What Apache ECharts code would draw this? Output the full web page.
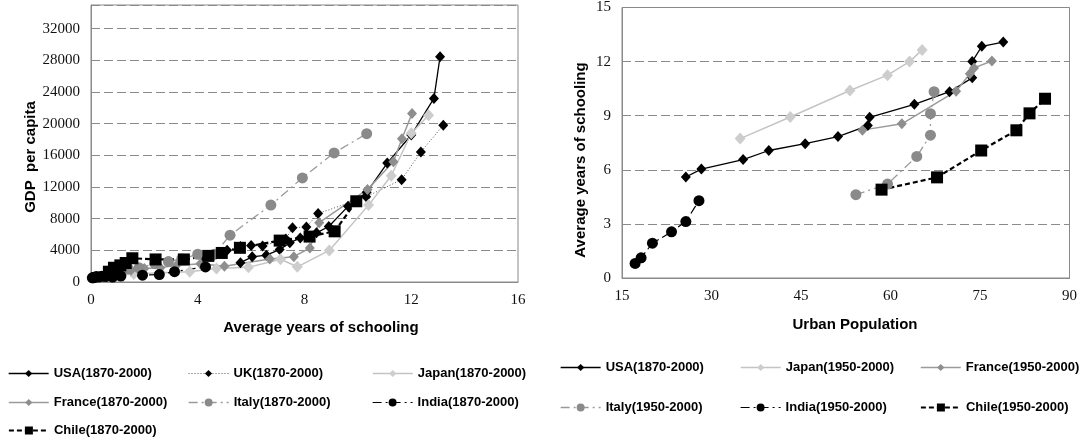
<!DOCTYPE html>
<html>
<head>
<meta charset="utf-8">
<script src="https://cdn.jsdelivr.net/npm/echarts@6/dist/echarts.min.js"></script>
<style>
  html, body { margin: 0; padding: 0; background: #fff; }
  #wrap { position: relative; width: 1080px; height: 442px; }
  #left { position: absolute; left: 0; top: 0; width: 540px; height: 442px; }
  #right { position: absolute; left: 540px; top: 0; width: 540px; height: 442px; }
</style>
</head>
<body>
<div id="wrap"><div id="left"></div><div id="right"></div></div>
<script>
// ---- Average years of schooling, by decade 1870-2000 ----
const usaSchool    = [5.6, 6.04, 6.57, 7.07, 7.45, 7.84, 8.45, 8.91, 9.63, 10.33, 11.1, 12.0, 12.85, 13.08];
const ukSchool     = [4.2, 4.6, 5.1, 5.6, 6.0, 6.43, 7.3, 7.55, 8.07, 8.51, 10.31, 11.64, 12.36, 13.2];
const japanSchool  = [0.5, 1.0, 1.6, 2.6, 3.7, 4.7, 5.9, 7.1, 7.73, 8.93, 10.4, 11.25, 12.0, 12.65];
const franceSchool = [1.5, 2.0, 2.6, 3.2, 4.1, 5.0, 6.7, 7.6, 8.2, 8.55, 10.36, 11.33, 11.65, 12.03];
const italySchool  = [0.9, 1.1, 1.4, 1.8, 2.4, 2.9, 3.4, 4.0, 4.62, 5.21, 6.74, 7.92, 9.11, 10.33];
const indiaSchool  = [0.05, 0.08, 0.1, 0.15, 0.2, 0.3, 0.4, 0.55, 0.81, 1.12, 1.93, 2.56, 3.13, 4.29];
const chileSchool  = [0.67, 0.86, 1.1, 1.3, 1.55, 2.42, 3.48, 4.4, 4.9, 5.58, 7.07, 8.19, 9.13, 9.94];

// ---- GDP per capita, by decade 1870-2000 ----
const usaGdp    = [2445, 3184, 3392, 4091, 4964, 5552, 6213, 7010, 9561, 11328, 15030, 18577, 23201, 28467];
const ukGdp     = [3190, 3477, 4009, 4492, 4611, 4548, 5441, 6856, 6939, 8645, 10767, 12931, 16430, 19817];
const japanGdp  = [737, 863, 1012, 1180, 1304, 1696, 1850, 2874, 1921, 3986, 9714, 13428, 18789, 21069];
const franceGdp = [1500, 1700, 1800, 2100, 2300, 2000, 2900, 3200, 4300, 7500, 11700, 15200, 18100, 21300];
const italyGdp  = [1499, 1581, 1667, 1785, 2332, 2587, 2918, 3505, 3502, 5916, 9719, 13149, 16313, 18740];
const indiaGdp  = [533, 533, 584, 599, 697, 635, 726, 686, 619, 753, 868, 938, 1309, 1910];
const chileGdp  = [1300, 1800, 2100, 2400, 3000, 2850, 2850, 3300, 3670, 4320, 5231, 5738, 6402, 10200];

// ---- Urban population share (%) ----
const usaUrban    = [25.7, 28.3, 35.3, 39.6, 45.7, 51.2, 56.2, 56.5, 64.0, 69.9, 73.7, 73.7, 75.3, 78.9];
const japanUrban  = [34.8, 43.2, 53.2, 59.5, 63.2, 65.3];   // 1950-2000
const franceUrban = [55.3, 61.9, 71.0, 73.3, 74.0, 77.0];   // 1950-2000
const italyUrban  = [54.2, 59.5, 64.4, 66.7, 66.7, 67.3];   // 1950-2000
const indiaUrban  = [17.2, 18.2, 20.1, 23.3, 25.7, 27.9];   // 1950-2000
const chileUrban  = [58.5, 67.8, 75.2, 81.1, 83.3, 85.9];   // 1950-2000

// ---- Axis ticks ----
const gdpTicks     = { min: 0, max: 35000, interval: 4000 };
const schoolTicks  = { min: 0, max: 16, interval: 4 };
const urbanTicks   = { min: 15, max: 90, interval: 15 };
const schoolYTicks = { min: 0, max: 15, interval: 3 };

const zip = (xs, ys) => xs.map((x, i) => [x, ys[i]]);
const from1950 = arr => arr.slice(8);

// Per-country drawing style
const styles = {
  usa:    { mark: '#000000', line: '#000000', width: 1.3, type: 'solid',      symbol: 'diamond', size: [10, 11], legendH: 9 },
  uk:     { mark: '#000000', line: '#555555', width: 1,   type: [1, 2],       symbol: 'diamond', size: [10, 11], legendH: 9 },
  japan:  { mark: '#cdcdcd', line: '#c4c4c4', width: 1.5, type: 'solid',      symbol: 'diamond', size: [11, 12], legendH: 9 },
  france: { mark: '#8e8e8e', line: '#9a9a9a', width: 1.5, type: 'solid',      symbol: 'diamond', size: [10, 11], legendH: 9 },
  italy:  { mark: '#8a8a8a', line: '#9a9a9a', width: 1.3, type: [9, 4, 2, 4], symbol: 'circle',  size: 11, legendH: 10 },
  india:  { mark: '#000000', line: '#000000', width: 1.2, type: [9, 4, 2, 4], symbol: 'circle',  size: 11, legendH: 10 },
  chile:  { mark: '#000000', line: '#000000', width: 2.2, type: [5, 3],       symbol: 'rect',    size: 12, legendH: 10 }
};

const leftSeries = [
  { name: 'USA(1870-2000)',    key: 'usa',    data: zip(usaSchool, usaGdp) },
  { name: 'UK(1870-2000)',     key: 'uk',     data: zip(ukSchool, ukGdp) },
  { name: 'Japan(1870-2000)',  key: 'japan',  data: zip(japanSchool, japanGdp) },
  { name: 'France(1870-2000)', key: 'france', data: zip(franceSchool, franceGdp) },
  { name: 'Italy(1870-2000)',  key: 'italy',  data: zip(italySchool, italyGdp) },
  { name: 'India(1870-2000)',  key: 'india',  data: zip(indiaSchool, indiaGdp) },
  { name: 'Chile(1870-2000)',  key: 'chile',  data: zip(chileSchool, chileGdp) }
];

const rightSeries = [
  { name: 'USA(1870-2000)',    key: 'usa',    data: zip(usaUrban, usaSchool) },
  { name: 'Japan(1950-2000)',  key: 'japan',  data: zip(japanUrban, from1950(japanSchool)) },
  { name: 'France(1950-2000)', key: 'france', data: zip(franceUrban, from1950(franceSchool)) },
  { name: 'Italy(1950-2000)',  key: 'italy',  data: zip(italyUrban, from1950(italySchool)) },
  { name: 'India(1950-2000)',  key: 'india',  data: zip(indiaUrban, from1950(indiaSchool)) },
  { name: 'Chile(1950-2000)',  key: 'chile',  data: zip(chileUrban, from1950(chileSchool)) }
];

// Legend slot positions (left, top) for each chart
const leftLegendPos  = [[8, 367], [188, 367], [372, 367], [8, 396], [188, 396], [372, 396], [8, 424]];
const rightLegendPos = [[20, 361], [200, 361], [380, 361], [20, 401], [200, 401], [380, 401]];

const tickFont   = { fontFamily: 'Liberation Serif', fontSize: 15, color: '#111' };
const titleFont  = { fontFamily: 'Liberation Sans', fontSize: 15, fontWeight: 'bold', fill: '#000' };
const legendFont = { fontFamily: 'Liberation Sans', fontSize: 13, fontWeight: 'bold', color: '#000' };
const frameColor = '#8a8a8a';

function makeSeries(s) {
  const st = styles[s.key];
  return {
    type: 'line', name: s.name, data: s.data,
    symbol: st.symbol, symbolSize: st.size, showAllSymbol: true,
    itemStyle: { color: st.mark, borderWidth: 0 },
    lineStyle: { color: st.line, width: st.width, type: st.type },
    emphasis: { disabled: true }
  };
}

function makeLegends(list, pos) {
  return list.map((s, i) => {
    const st = styles[s.key];
    return {
      data: [s.name], left: pos[i][0], top: pos[i][1], padding: 0,
      itemWidth: 40, itemHeight: st.legendH, itemGap: 0,
      textStyle: legendFont,
      lineStyle: { width: Math.min(st.width, 1.8) },
      selectedMode: false
    };
  });
}

function valueAxis(ticks, opts) {
  return Object.assign({
    type: 'value', min: ticks.min, max: ticks.max, interval: ticks.interval,
    axisLine: { show: true, onZero: false, lineStyle: { color: frameColor, width: 1 } },
    axisTick: { show: false },
    axisLabel: Object.assign({
      margin: 11,
      showMaxLabel: ticks.max % ticks.interval === 0,
      formatter: v => String(v)
    }, tickFont),
    splitLine: { show: false }
  }, opts || {});
}

function rotatedTitle(text, x, y) {
  return { type: 'text', x: x, y: y, rotation: Math.PI / 2,
    style: Object.assign({ text: text, align: 'center', verticalAlign: 'middle' }, titleFont) };
}
function flatTitle(text, x, y) {
  return { type: 'text', x: x, y: y,
    style: Object.assign({ text: text, align: 'center', verticalAlign: 'middle' }, titleFont) };
}

const dashed = { show: true, lineStyle: { color: frameColor, width: 1, type: [9, 4] } };

// Left: GDP per capita vs schooling
const leftChart = echarts.init(document.getElementById('left'), null, { renderer: 'canvas' });
leftChart.setOption({
  animation: false,
  backgroundColor: '#fff',
  grid: { left: 91, right: 22, top: 5, bottom: 160, show: true, borderColor: frameColor, borderWidth: 1, backgroundColor: 'transparent' },
  xAxis: valueAxis(schoolTicks),
  yAxis: valueAxis(gdpTicks, { splitLine: dashed }),
  legend: makeLegends(leftSeries, leftLegendPos),
  graphic: [
    rotatedTitle('GDP  per capita', 31, 157),
    flatTitle('Average years of schooling', 321, 328)
  ],
  series: leftSeries.map(makeSeries)
});

// Right: schooling vs urban population
const rightChart = echarts.init(document.getElementById('right'), null, { renderer: 'canvas' });
rightChart.setOption({
  animation: false,
  backgroundColor: '#fff',
  grid: { left: 82, right: 10, top: 5, bottom: 164, show: true, borderColor: frameColor, borderWidth: 1, backgroundColor: 'transparent' },
  xAxis: valueAxis(urbanTicks),
  yAxis: valueAxis(schoolYTicks, { splitLine: dashed }),
  legend: makeLegends(rightSeries, rightLegendPos),
  graphic: [
    rotatedTitle('Average years of schooling', 41, 160),
    flatTitle('Urban Population', 315, 325)
  ],
  series: rightSeries.map(makeSeries)
});
</script>
</body>
</html>
